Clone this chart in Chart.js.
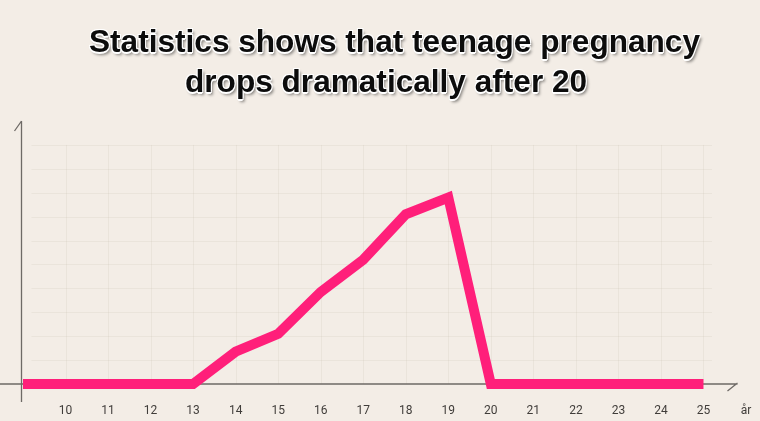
<!DOCTYPE html>
<html>
<head>
<meta charset="utf-8">
<script src="https://cdn.jsdelivr.net/npm/chart.js@4.4.1/dist/chart.umd.min.js"></script>
<style>
  html, body { margin: 0; padding: 0; background: #f3ede6; }
  #wrap { position: relative; width: 760px; height: 421px; overflow: hidden; }
  canvas { position: absolute; left: 0; top: 0; }
  .title {
    position: absolute;
    font-family: "Liberation Sans", Arial, sans-serif;
    font-weight: bold;
    font-size: 31.6px;
    line-height: 40px;
    color: #0c0c0c;
    white-space: nowrap;
    text-shadow: -1px -1px 0 #fff, 1px -1px 0 #fff, -1px 1px 0 #fff, 1px 1px 0 #fff,
                 0 2px 0 #fff, 2px 3px 3px rgba(0,0,0,0.45);
  }
</style>
</head>
<body>
<div id="wrap">
  <canvas id="pregChart" width="760" height="421"></canvas>
  <div class="title" style="left:89px; top:21px;">Statistics shows that teenage pregnancy</div>
  <div class="title" style="left:185px; top:61px;">drops dramatically after 20</div>
</div>
<script>
// age in years (x) and relative number of pregnancies (y, in grid units)
const ages = [9, 10, 11, 12, 13, 14, 15, 16, 17, 18, 19, 20, 21, 22, 23, 24, 25];
const pregnancies = [0, 0, 0, 0, 0, 1.35, 2.1, 3.85, 5.2, 7.1, 7.8, 0, 0, 0, 0, 0, 0];
const xTicks = [10, 11, 12, 13, 14, 15, 16, 17, 18, 19, 20, 21, 22, 23, 24, 25];
const unitLabel = 'år';

const points = ages.map((a, i) => ({ x: a, y: pregnancies[i] }));

const axesPlugin = {
  id: 'paperAxes',
  beforeDatasetsDraw(chart) {
    const { ctx, scales: { x, y } } = chart;
    const y0 = y.getPixelForValue(0);
    ctx.save();

    // faint grid
    ctx.strokeStyle = 'rgba(130,110,90,0.07)';
    ctx.lineWidth = 1;
    for (let v = 1; v <= 10; v++) {
      const py = Math.round(y.getPixelForValue(v)) + 0.5;
      ctx.beginPath();
      ctx.moveTo(x.getPixelForValue(9.2), py);
      ctx.lineTo(x.getPixelForValue(25.2), py);
      ctx.stroke();
    }
    xTicks.forEach(v => {
      const px = Math.round(x.getPixelForValue(v)) + 0.5;
      ctx.beginPath();
      ctx.moveTo(px, y.getPixelForValue(10));
      ctx.lineTo(px, y0);
      ctx.stroke();
    });

    // axis lines
    ctx.strokeStyle = '#6e6a66';
    ctx.lineWidth = 1.3;
    const ax = x.getPixelForValue(9) - 1.5;
    const top = y.getPixelForValue(11);
    ctx.beginPath();
    ctx.moveTo(ax, y0 + 18);
    ctx.lineTo(ax, top);
    ctx.moveTo(ax, top);
    ctx.lineTo(ax - 7, top + 10);
    ctx.stroke();

    const right = x.getPixelForValue(25.8);
    ctx.beginPath();
    ctx.moveTo(0, y0);
    ctx.lineTo(right, y0);
    ctx.moveTo(right, y0 - 1);
    ctx.lineTo(right - 10, y0 + 7);
    ctx.stroke();
    ctx.restore();
  }
};

new Chart(document.getElementById('pregChart'), {
  type: 'line',
  data: {
    datasets: [{
      data: points,
      borderColor: '#ff1f7a',
      borderWidth: 10,
      borderJoinStyle: 'miter',
      borderCapStyle: 'butt',
      pointRadius: 0,
      tension: 0,
      clip: false
    }]
  },
  options: {
    responsive: false,
    animation: false,
    layout: { padding: { left: 23, right: 14, top: 121, bottom: 4 } },
    plugins: {
      legend: { display: false },
      tooltip: { enabled: false }
    },
    scales: {
      x: {
        type: 'linear',
        min: 9,
        max: 26,
        border: { display: false },
        grid: { display: false, drawTicks: false },
        afterBuildTicks(scale) {
          scale.ticks = xTicks.concat([26]).map(v => ({ value: v }));
        },
        afterFit(scale) {
          scale.height = 33;
          scale.paddingLeft = 0;
          scale.paddingRight = 0;
        },
        ticks: {
          autoSkip: false,
          maxRotation: 0,
          padding: 20,
          color: '#403d3a',
          font: { family: 'Roboto, "Liberation Sans", sans-serif', size: 12 },
          callback: v => (v === 26 ? unitLabel : String(v))
        }
      },
      y: {
        display: false,
        min: 0,
        max: 11
      }
    }
  },
  plugins: [axesPlugin]
});
</script>
</body>
</html>
